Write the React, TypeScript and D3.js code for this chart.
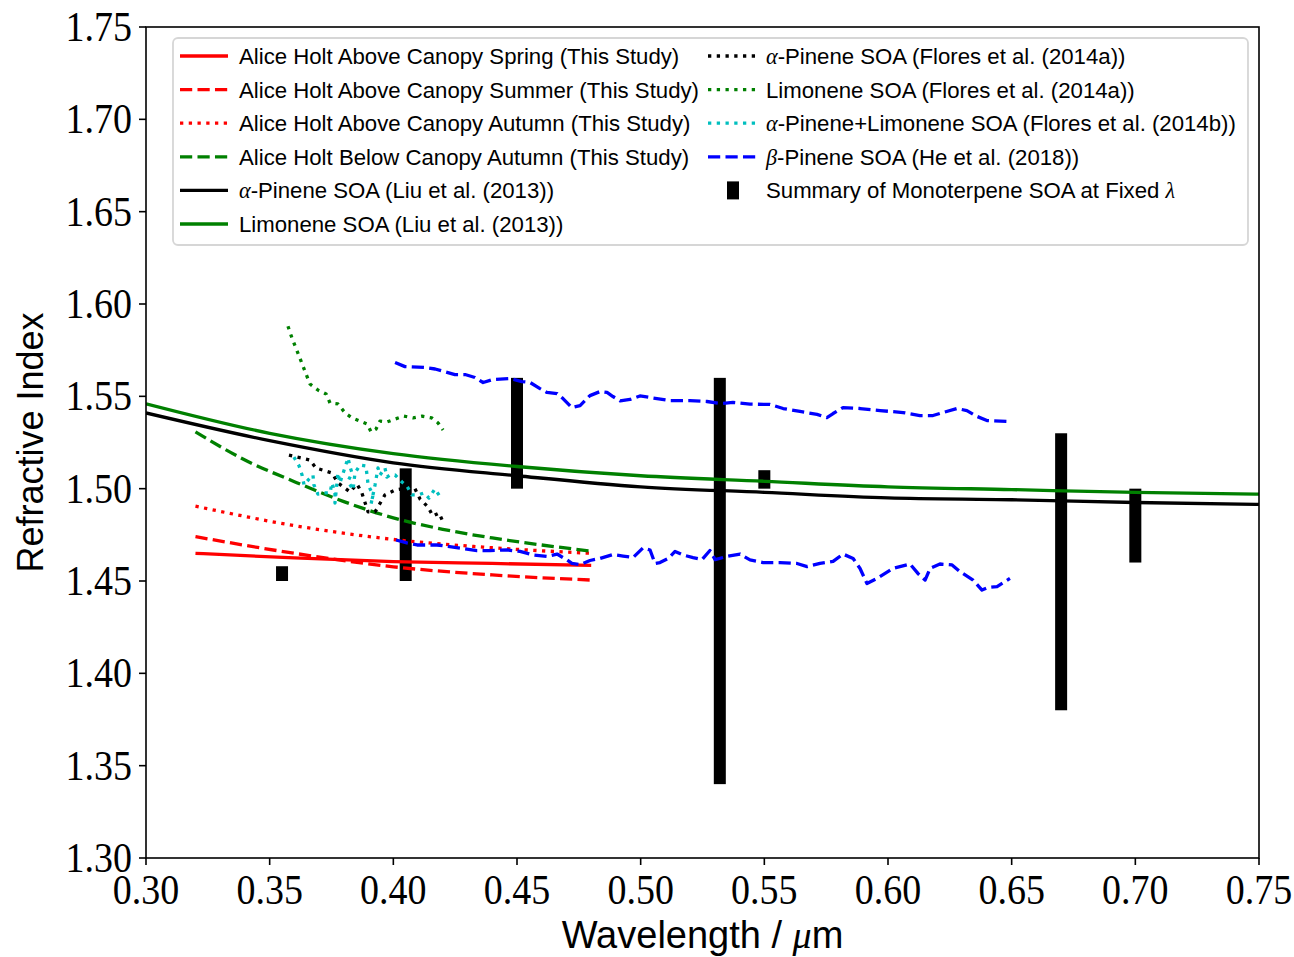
import React from 'react';
import * as d3 from 'd3';

// ---------- data ----------
const xTickValues = [0.30, 0.35, 0.40, 0.45, 0.50, 0.55, 0.60, 0.65, 0.70, 0.75];
const yTickValues = [1.30, 1.35, 1.40, 1.45, 1.50, 1.55, 1.60, 1.65, 1.70, 1.75];

// Liu et al. (2013)
const liuWl = [0.30, 0.35, 0.40, 0.45, 0.50, 0.55, 0.60, 0.65, 0.70, 0.75];
const liuAlphaPinene = [1.541, 1.526, 1.514, 1.507, 1.501, 1.498, 1.495, 1.494, 1.4925, 1.4915];
const liuLimonene = [1.546, 1.530, 1.519, 1.512, 1.507, 1.504, 1.501, 1.4995, 1.498, 1.497];

// This study
const studyWl = [0.32, 0.36, 0.40, 0.44, 0.48];
const aboveSpring = [1.465, 1.4625, 1.4605, 1.4595, 1.4585];
const aboveSummer = [1.474, 1.465, 1.4577, 1.4533, 1.4505];
const aboveAutumn = [1.4905, 1.480, 1.4725, 1.468, 1.465];
const belowWl = [0.32, 0.34, 0.36, 0.38, 0.40, 0.42, 0.44, 0.46, 0.48];
const belowAutumn = [1.5308, 1.5155, 1.5038, 1.493, 1.4842, 1.478, 1.4733, 1.4695, 1.4662];

// Flores et al. (2014a) alpha-pinene SOA
const floresAlphaWl = [0.3578, 0.3663, 0.3687, 0.3752, 0.3776, 0.3825, 0.3853, 0.3873, 0.3898, 0.3926, 0.3966, 0.4007, 0.4084, 0.4108, 0.4140, 0.4160, 0.4185, 0.4201];
const floresAlphaN = [1.5182, 1.5155, 1.5112, 1.5085, 1.5031, 1.4982, 1.5025, 1.4976, 1.4874, 1.4874, 1.4966, 1.4993, 1.5009, 1.4944, 1.4901, 1.4852, 1.4868, 1.4819];

// Flores et al. (2014a) limonene SOA
const floresLimWl = [0.3574, 0.3590, 0.3619, 0.3647, 0.3663, 0.3695, 0.3728, 0.3744, 0.3776, 0.3805, 0.3833, 0.3865, 0.3894, 0.3910, 0.3930, 0.3946, 0.3974, 0.4007, 0.4043, 0.4080, 0.4116, 0.4156, 0.4181, 0.4201];
const floresLimN = [1.588, 1.5816, 1.5718, 1.5621, 1.5567, 1.5534, 1.5513, 1.5464, 1.5459, 1.5410, 1.5383, 1.5366, 1.5350, 1.5307, 1.5323, 1.5366, 1.5361, 1.5377, 1.5393, 1.5383, 1.5393, 1.5383, 1.5356, 1.5318];

// Flores et al. (2014b) alpha-pinene + limonene SOA
const floresMixWl = [0.3598, 0.3619, 0.3631, 0.3639, 0.3659, 0.3675, 0.3679, 0.3695, 0.3720, 0.3744, 0.3752, 0.3764, 0.3764, 0.3776, 0.3784, 0.3817, 0.3825, 0.3833, 0.3817, 0.3837, 0.3845, 0.3865, 0.3889, 0.3894, 0.3898, 0.3918, 0.3910, 0.3926, 0.3938, 0.3946, 0.3966, 0.3974, 0.3987, 0.4007, 0.4035, 0.4055, 0.4075, 0.4100, 0.4124, 0.4144, 0.4168, 0.4193];
const floresMixN = [1.5171, 1.5123, 1.5074, 1.5020, 1.5052, 1.5074, 1.5020, 1.4971, 1.4977, 1.4977, 1.5031, 1.4977, 1.4922, 1.5085, 1.5031, 1.5166, 1.5117, 1.5085, 1.5041, 1.4993, 1.5085, 1.5128, 1.5123, 1.5069, 1.5020, 1.4966, 1.4917, 1.5020, 1.5112, 1.5074, 1.5112, 1.5063, 1.5074, 1.5074, 1.5036, 1.5014, 1.4966, 1.4966, 1.4977, 1.4949, 1.4998, 1.4949];

// He et al. (2018) beta-pinene SOA - upper
const heUpperWl = [0.4007, 0.4047, 0.4128, 0.4169, 0.4249, 0.4290, 0.4330, 0.4363, 0.4403, 0.4472, 0.4520, 0.4553, 0.4593, 0.4621, 0.4662, 0.4686, 0.4722, 0.4755, 0.4795, 0.4836, 0.4864, 0.4888, 0.4917, 0.4957, 0.4997, 0.5066, 0.5119, 0.5199, 0.5268, 0.5321, 0.5373, 0.5442, 0.5523, 0.5576, 0.5644, 0.5713, 0.5753, 0.5778, 0.5818, 0.5887, 0.5968, 0.6061, 0.6129, 0.6182, 0.6222, 0.6279, 0.6319, 0.6360, 0.6400, 0.6485];
const heUpperN = [1.5683, 1.5661, 1.5656, 1.5648, 1.5618, 1.5618, 1.5602, 1.5575, 1.5591, 1.5596, 1.5580, 1.5575, 1.5542, 1.5521, 1.5515, 1.5488, 1.5439, 1.5450, 1.5504, 1.5526, 1.5521, 1.5499, 1.5475, 1.5483, 1.5502, 1.5488, 1.5477, 1.5477, 1.5472, 1.5461, 1.5467, 1.5458, 1.5456, 1.5434, 1.5418, 1.5402, 1.5385, 1.5407, 1.5439, 1.5434, 1.5423, 1.5412, 1.5396, 1.5396, 1.5412, 1.5434, 1.5423, 1.5391, 1.5369, 1.5364];

// He et al. (2018) beta-pinene SOA - lower
const heLowerWl = [0.4011, 0.4055, 0.4096, 0.4177, 0.4221, 0.4282, 0.4338, 0.4391, 0.4460, 0.4512, 0.4565, 0.4621, 0.4662, 0.4702, 0.4722, 0.4755, 0.4795, 0.4836, 0.4888, 0.4929, 0.4969, 0.5009, 0.5038, 0.5058, 0.5078, 0.5111, 0.5139, 0.5171, 0.5212, 0.5248, 0.5280, 0.5301, 0.5349, 0.5402, 0.5442, 0.5495, 0.5563, 0.5632, 0.5673, 0.5725, 0.5778, 0.5818, 0.5859, 0.5887, 0.5915, 0.5956, 0.6020, 0.6089, 0.6121, 0.6150, 0.6170, 0.6210, 0.6259, 0.6291, 0.6344, 0.6380, 0.6404, 0.6441, 0.6493];
const heLowerN = [1.4722, 1.4706, 1.4695, 1.4695, 1.4687, 1.4676, 1.4665, 1.4665, 1.4668, 1.4660, 1.4641, 1.4633, 1.4646, 1.4614, 1.4595, 1.4589, 1.4611, 1.4622, 1.4643, 1.4635, 1.4627, 1.4679, 1.4668, 1.4595, 1.4600, 1.4622, 1.4660, 1.4641, 1.4627, 1.4616, 1.4665, 1.4616, 1.4633, 1.4646, 1.4614, 1.4600, 1.4600, 1.4595, 1.4578, 1.4595, 1.4606, 1.4646, 1.4622, 1.4568, 1.4486, 1.4514, 1.4568, 1.4592, 1.4541, 1.4505, 1.4568, 1.4592, 1.4587, 1.4551, 1.4505, 1.4451, 1.4465, 1.4470, 1.4514];

// Summary of monoterpene SOA at fixed wavelength
const summaryWl = [0.355, 0.405, 0.45, 0.532, 0.55, 0.67, 0.70];
const summaryLow = [1.450, 1.450, 1.500, 1.340, 1.500, 1.380, 1.460];
const summaryHigh = [1.458, 1.511, 1.560, 1.560, 1.510, 1.530, 1.500];

// ---------- layout ----------
const W = 1294;
const H = 957;
const PL = 146, PR = 1259, PT = 27, PB = 858;
const LW = 3.3;
const DASH = `${3.7 * LW} ${1.6 * LW}`;
const DOT = `${1 * LW} ${1.65 * LW}`;

const x = d3.scaleLinear().domain([0.30, 0.75]).range([PL, PR]);
const y = d3.scaleLinear().domain([1.30, 1.75]).range([PB, PT]);

const lineLin = d3.line<[number, number]>().x(d => x(d[0])).y(d => y(d[1]));
const lineSmooth = d3.line<[number, number]>().x(d => x(d[0])).y(d => y(d[1])).curve(d3.curveMonotoneX);

const zip = (a: number[], b: number[]) => a.map((v, i) => [v, b[i]] as [number, number]);

const SERIF = "'Liberation Serif', 'DejaVu Serif', serif";
const SANS = "'Liberation Sans', Arial, sans-serif";

type Entry = {
  label: React.ReactNode;
  color: string;
  dash?: string;
  bar?: boolean;
};

const greek = (c: string) => (
  <tspan fontFamily={SERIF} fontStyle="italic">{c}</tspan>
);

const leftEntries: Entry[] = [
  { label: 'Alice Holt Above Canopy Spring (This Study)', color: '#ff0000' },
  { label: 'Alice Holt Above Canopy Summer (This Study)', color: '#ff0000', dash: DASH },
  { label: 'Alice Holt Above Canopy Autumn (This Study)', color: '#ff0000', dash: DOT },
  { label: 'Alice Holt Below Canopy Autumn (This Study)', color: '#008000', dash: DASH },
  { label: <>{greek('α')}-Pinene SOA (Liu et al. (2013))</>, color: '#000000' },
  { label: 'Limonene SOA (Liu et al. (2013))', color: '#008000' },
];
const rightEntries: Entry[] = [
  { label: <>{greek('α')}-Pinene SOA (Flores et al. (2014a))</>, color: '#000000', dash: DOT },
  { label: 'Limonene SOA (Flores et al. (2014a))', color: '#008000', dash: DOT },
  { label: <>{greek('α')}-Pinene+Limonene SOA (Flores et al. (2014b))</>, color: '#00bfbf', dash: DOT },
  { label: <>{greek('β')}-Pinene SOA (He et al. (2018))</>, color: '#0000ff', dash: DASH },
  { label: <>Summary of Monoterpene SOA at Fixed {greek('λ')}</>, color: '#000000', bar: true },
];

const series = [
  { d: zip(studyWl, aboveSpring), c: '#ff0000', dash: undefined, smooth: true },
  { d: zip(studyWl, aboveSummer), c: '#ff0000', dash: DASH, smooth: true },
  { d: zip(studyWl, aboveAutumn), c: '#ff0000', dash: DOT, smooth: true },
  { d: zip(belowWl, belowAutumn), c: '#008000', dash: DASH, smooth: true },
  { d: zip(liuWl, liuAlphaPinene), c: '#000000', dash: undefined, smooth: true },
  { d: zip(liuWl, liuLimonene), c: '#008000', dash: undefined, smooth: true },
  { d: zip(floresAlphaWl, floresAlphaN), c: '#000000', dash: DOT, smooth: false },
  { d: zip(floresLimWl, floresLimN), c: '#008000', dash: DOT, smooth: false },
  { d: zip(floresMixWl, floresMixN), c: '#00bfbf', dash: DOT, smooth: false },
  { d: zip(heUpperWl, heUpperN), c: '#0000ff', dash: DASH, smooth: false },
  { d: zip(heLowerWl, heLowerN), c: '#0000ff', dash: DASH, smooth: false },
];

export default function App() {
  const tickFs = 38;
  const tickSy = 1.12;
  const legFs = 22.2;
  const rowY0 = 56;
  const rowDy = 33.6;

  return (
    <svg width={W} height={H} style={{ position: 'absolute', left: 0, top: 0, background: '#fff' }}>
      <rect x={0} y={0} width={W} height={H} fill="#fff" />
      <defs>
        <clipPath id="plotClip">
          <rect x={PL} y={PT} width={PR - PL} height={PB - PT} />
        </clipPath>
      </defs>

      {/* summary bars (under lines) */}
      <g clipPath="url(#plotClip)">
        {summaryWl.map((w, i) => (
          <rect key={i} x={x(w) - 6} y={y(summaryHigh[i])} width={12}
            height={y(summaryLow[i]) - y(summaryHigh[i])} fill="#000" />
        ))}
      </g>

      {/* series */}
      <g clipPath="url(#plotClip)">
        {series.map((s, i) => (
          <path key={i} d={(s.smooth ? lineSmooth : lineLin)(s.d) || ''} fill="none" stroke={s.c}
            strokeWidth={LW} strokeDasharray={s.dash} strokeLinecap="butt" strokeLinejoin="round" />
        ))}
      </g>

      {/* axes frame */}
      <rect x={PL} y={PT} width={PR - PL} height={PB - PT} fill="none" stroke="#000" strokeWidth={1.6} />

      {/* x ticks */}
      {xTickValues.map((t, i) => (
        <g key={'x' + i}>
          <line x1={x(t)} x2={x(t)} y1={PB} y2={PB + 7} stroke="#000" strokeWidth={1.6} />
          <text transform={`translate(${x(t)},${PB + 46}) scale(1,${tickSy})`} textAnchor="middle"
            fontFamily={SERIF} fontSize={tickFs} fill="#000">{t.toFixed(2)}</text>
        </g>
      ))}
      {/* y ticks */}
      {yTickValues.map((t, i) => (
        <g key={'y' + i}>
          <line x1={PL - 7} x2={PL} y1={y(t)} y2={y(t)} stroke="#000" strokeWidth={1.6} />
          <text transform={`translate(${PL - 14},${y(t) + 14}) scale(1,${tickSy})`} textAnchor="end"
            fontFamily={SERIF} fontSize={tickFs} fill="#000">{t.toFixed(2)}</text>
        </g>
      ))}

      {/* axis labels */}
      <text x={(PL + PR) / 2} y={948} textAnchor="middle" fontFamily={SANS} fontSize={38} fill="#000">
        Wavelength / <tspan fontFamily={SERIF} fontStyle="italic">μ</tspan>m
      </text>
      <text transform={`translate(43,${(PT + PB) / 2}) rotate(-90)`} textAnchor="middle"
        fontFamily={SANS} fontSize={36} fill="#000">Refractive Index</text>

      {/* legend */}
      <rect x={173} y={38} width={1075} height={207} rx={5} fill="#fff" fillOpacity={0.8}
        stroke="#d6d6d6" strokeWidth={1.8} />
      {leftEntries.map((e, i) => {
        const cy = rowY0 + i * rowDy;
        return (
          <g key={'l' + i}>
            <line x1={180} x2={228} y1={cy} y2={cy} stroke={e.color} strokeWidth={LW} strokeDasharray={e.dash} />
            <text x={239} y={cy + 8} fontFamily={SANS} fontSize={legFs} fill="#000">{e.label}</text>
          </g>
        );
      })}
      {rightEntries.map((e, i) => {
        const cy = rowY0 + i * rowDy;
        return (
          <g key={'r' + i}>
            {e.bar ? (
              <rect x={727} y={cy - 9} width={12} height={18} fill="#000" />
            ) : (
              <line x1={708} x2={756} y1={cy} y2={cy} stroke={e.color} strokeWidth={LW} strokeDasharray={e.dash} />
            )}
            <text x={766} y={cy + 8} fontFamily={SANS} fontSize={legFs} fill="#000">{e.label}</text>
          </g>
        );
      })}
    </svg>
  );
}
